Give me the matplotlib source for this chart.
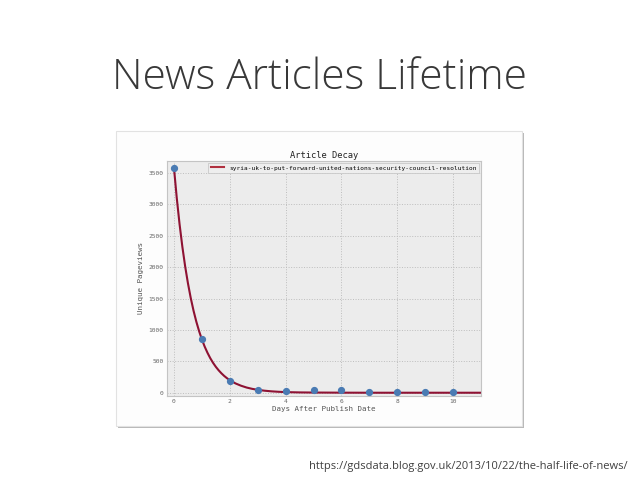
import numpy as np
import matplotlib.pyplot as plt
from matplotlib.patches import Rectangle

# observed unique pageviews per day
days = [0, 1, 2, 3, 4, 5, 6, 7, 8, 9, 10]
views = [3580, 855, 190, 52, 30, 52, 45, 16, 16, 6, 6]

# fitted decay curve
fit_x = [0, 0.1, 0.2, 0.3, 0.4, 0.5, 0.6, 0.7, 0.8, 0.9, 1.0, 1.1, 1.2, 1.3, 1.4,
         1.5, 1.6, 1.7, 1.8, 1.9, 2.0, 2.2, 2.4, 2.6, 2.8, 3.0, 3.25, 3.5, 3.75,
         4, 4.5, 5, 5.5, 6, 7, 8, 9, 10, 11]
fit_y = [3580, 3100, 2685, 2326, 2014, 1745, 1511, 1309, 1134, 982, 850, 736, 638,
         552, 478, 414, 359, 311, 269, 233, 202, 151, 114, 85, 64, 48, 34, 24, 17,
         12, 7, 5, 4, 3, 2, 2, 2, 2, 2]

series_name = "syria-uk-to-put-forward-united-nations-security-council-resolution"
xticks = [0, 2, 4, 6, 8, 10]
yticks = [0, 500, 1000, 1500, 2000, 2500, 3000, 3500]

W, H = 638, 479
fig = plt.figure(figsize=(W / 100, H / 100), dpi=100)

# slide title and source
fig.text(0.5, 1 - 89 / H, "News Articles Lifetime", ha="center", va="baseline",
         fontsize=30.5, family="Open Sans", fontweight=300, color="#383838")
fig.text(628 / W, 1 - 469 / H, "https://gdsdata.blog.gov.uk/2013/10/22/the-half-life-of-news/",
         ha="right", va="baseline", fontsize=8, family="Open Sans", color="#404040")

# screenshot frame with shadow
fig.patches.append(Rectangle((118 / W, 1 - 428 / H), 406 / W, 295 / H, transform=fig.transFigure,
                             facecolor="#b8b8b8", edgecolor="none", zorder=0))
fig.patches.append(Rectangle((116 / W, 1 - 426 / H), 406 / W, 295 / H, transform=fig.transFigure,
                             facecolor="#fdfdfd", edgecolor="#e2e2e2", lw=0.8, zorder=0))

ax = fig.add_axes([167 / W, 1 - 396 / H, 314 / W, 235 / H])
ax.set_zorder(2)
ax.set_facecolor("#ececec")
for s in ax.spines.values():
    s.set_color("#c4c4c4")
    s.set_linewidth(0.8)

ax.plot(fit_x, fit_y, color="#8e1233", lw=1.5, label=series_name, zorder=2)
ax.plot(days, views, "o", color="#4a7bb3", ms=4.2, zorder=3)

ax.set_xlim(-0.25, 11)
ax.set_ylim(-50, 3690)
ax.set_xticks(xticks)
ax.set_yticks(yticks)
ax.grid(True, color="#bdbdbd", linestyle=":", lw=0.7)
ax.set_axisbelow(True)
ax.tick_params(length=0, pad=2.5, labelsize=4.5, labelcolor="#666666")
for lab in ax.get_xticklabels() + ax.get_yticklabels():
    lab.set_family("DejaVu Sans Mono")

mono = {"family": "DejaVu Sans Mono"}
ax.set_title("Article Decay", fontsize=6.3, pad=2, color="#222222", **mono)
ax.set_xlabel("Days After Publish Date", fontsize=5.4, labelpad=1, color="#555555", **mono)
ax.set_ylabel("Unique Pageviews", fontsize=5.4, labelpad=3, color="#555555", **mono)

leg = ax.legend(loc="upper right", prop={"family": "DejaVu Sans Mono", "size": 4.4},
                fancybox=False, framealpha=1, borderpad=0.4, handlelength=2.2,
                borderaxespad=0.3)
leg.get_frame().set_edgecolor("#c8c8c8")
leg.get_frame().set_facecolor("#eeeeee")
leg.get_frame().set_linewidth(0.6)
for line in leg.get_lines():
    line.set_color("#b0303f")
    line.set_linewidth(1.5)

fig.savefig("out.png", dpi=100)
